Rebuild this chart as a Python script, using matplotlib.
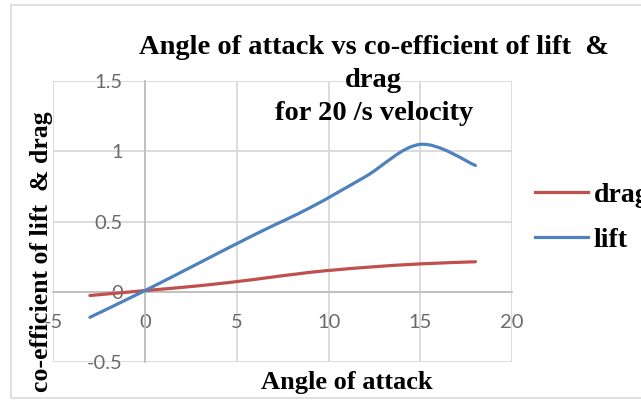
import matplotlib
matplotlib.use("Agg")
import matplotlib.pyplot as plt
from matplotlib.path import Path
from matplotlib.patches import PathPatch, Rectangle
from matplotlib.lines import Line2D
import numpy as np

# Data
angle = [-3, 0, 3, 6, 9, 12, 15, 18]
lift = [-0.18, 0.01, 0.21, 0.41, 0.60, 0.82, 1.05, 0.90]
drag = [-0.025, 0.01, 0.045, 0.09, 0.14, 0.175, 0.20, 0.215]
xticks = [-5, 0, 5, 10, 15, 20]
yticks = [-0.5, 0, 0.5, 1, 1.5]
xticklabels = ["-5", "0", "5", "10", "15", "20"]
yticklabels = ["-0.5", "0", "0.5", "1", "1.5"]
title = "Angle of attack vs co-efficient of lift  &\ndrag\nfor 20 /s velocity"
xlabel = "Angle of attack"
ylabel = "co-efficient of lift  & drag"
series_names = ["drag", "lift"]

RED = "#C0504D"
BLUE = "#4F81BD"
SERIF = ["Liberation Serif", "DejaVu Serif"]

def smooth_path(xs, ys):
    xs = np.asarray(xs, float)
    ys = np.asarray(ys, float)
    n = len(xs)
    verts = [(xs[0], ys[0])]
    codes = [Path.MOVETO]
    for i in range(n - 1):
        p0 = (xs[max(i - 1, 0)], ys[max(i - 1, 0)])
        p1 = (xs[i], ys[i])
        p2 = (xs[i + 1], ys[i + 1])
        p3 = (xs[min(i + 2, n - 1)], ys[min(i + 2, n - 1)])
        c1 = (p1[0] + (p2[0] - p0[0]) / 6.0, p1[1] + (p2[1] - p0[1]) / 6.0)
        c2 = (p2[0] - (p3[0] - p1[0]) / 6.0, p2[1] - (p3[1] - p1[1]) / 6.0)
        verts += [c1, c2, p2]
        codes += [Path.CURVE4] * 3
    return Path(verts, codes)

fig = plt.figure(figsize=(6.41, 4.01), dpi=100)
fig.patches.append(Rectangle((0.017, 0.008), 1.2, 0.979, transform=fig.transFigure,
                             fill=False, edgecolor="#d9d9d9", linewidth=1.2))
ax = fig.add_axes([0.083, 0.0965, 0.716, 0.7013])
ax.set_xlim(-5, 20)
ax.set_ylim(-0.5, 1.5)
ax.set_axisbelow(True)

ax.set_xticks(xticks)
ax.set_xticklabels(xticklabels)
ax.set_yticks(yticks)
ax.set_yticklabels(yticklabels)
ax.grid(True, color="#d9d9d9", linewidth=1.3)
for s in ["top", "right"]:
    ax.spines[s].set_visible(False)
ax.spines["bottom"].set_position(("data", 0))
ax.spines["left"].set_position(("data", 0))
for s in ["bottom", "left"]:
    ax.spines[s].set_color("#bfbfbf")
    ax.spines[s].set_linewidth(1.3)
ax.tick_params(axis="x", length=0, labelsize=14.5, labelcolor="#6a6a6a", pad=16)
ax.tick_params(axis="y", length=0, labelsize=14.5, labelcolor="#6a6a6a", pad=16)
for lab in ax.get_xticklabels() + ax.get_yticklabels():
    lab.set_fontfamily(["Lato", "DejaVu Sans"])

for xs, ys, c in [(angle, drag, RED), (angle, lift, BLUE)]:
    ax.add_patch(PathPatch(smooth_path(xs, ys), fill=False, edgecolor=c,
                           linewidth=2.3, capstyle="round", zorder=3))

fig.text(0.583, 0.80, title, ha="center", va="center", multialignment="center",
         fontsize=20.5, fontweight="bold", family=SERIF, linespacing=1.42)
fig.text(0.541, 0.047, xlabel, ha="center", va="center",
         fontsize=19, fontweight="bold", family=SERIF)
fig.text(0.064, 0.372, ylabel, ha="center", va="center", rotation=90,
         fontsize=18.5, fontweight="bold", family=SERIF)

handles = [Line2D([], [], color=RED, linewidth=2.3),
           Line2D([], [], color=BLUE, linewidth=2.3)]
leg = fig.legend(handles, series_names, loc="center left", bbox_to_anchor=(0.835, 0.457),
                 frameon=False, handlelength=1.9, handletextpad=0.2, labelspacing=0.7,
                 borderpad=0, borderaxespad=0,
                 prop={"family": SERIF, "weight": "bold", "size": 20})

fig.savefig("out.png", dpi=100)
